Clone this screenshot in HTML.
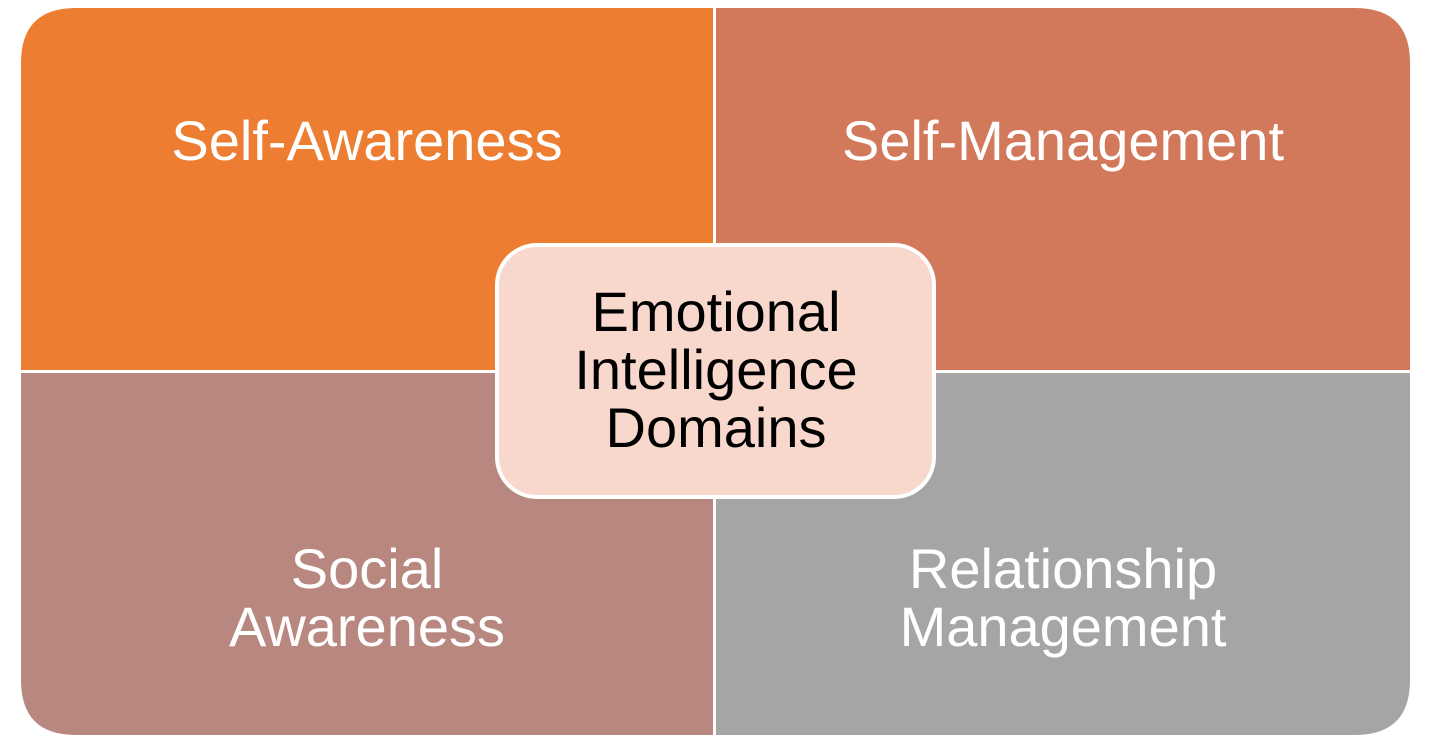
<!DOCTYPE html>
<html><head><meta charset="utf-8"><style>
html,body{margin:0;padding:0;background:#fff;}
svg{display:block}
text{font-family:"Liberation Sans",Arial,sans-serif;font-size:56px;text-anchor:middle}
</style></head><body>
<svg width="1431" height="752" viewBox="0 0 1431 752" xmlns="http://www.w3.org/2000/svg">
<path d="M21,370 V63 Q21,8 76,8 H713 V370 Z" fill="#ed7d31"/>
<path d="M716,8 H1355 Q1410,8 1410,63 V370 H716 Z" fill="#d2785b"/>
<path d="M21,373 H713 V735 H76 Q21,735 21,680 Z" fill="#b88880"/>
<path d="M716,373 H1410 V680 Q1410,735 1355,735 H716 Z" fill="#a5a5a5"/>
<rect x="497" y="245" width="437" height="252" rx="40" ry="40" fill="#f8d8cc" stroke="#fff" stroke-width="4"/>
<g fill="#fff">
<text x="367" y="160">Self-Awareness</text>
<text x="1063" y="160">Self-Management</text>
<text x="367" y="588">Social</text>
<text x="367" y="646">Awareness</text>
<text x="1063" y="588">Relationship</text>
<text x="1063" y="646">Management</text>
</g>
<g fill="#000">
<text x="716" y="331">Emotional</text>
<text x="716" y="389">Intelligence</text>
<text x="716" y="447">Domains</text>
</g>
</svg>
</body></html>
